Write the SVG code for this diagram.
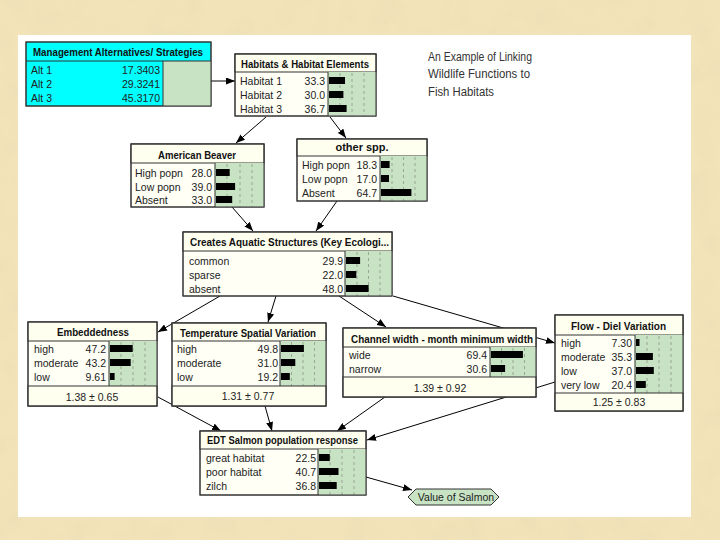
<svg xmlns="http://www.w3.org/2000/svg" width="720" height="540" viewBox="0 0 720 540">
<defs>
<style>
.box{stroke:#333;stroke-width:1;fill:#fffff6}
.ttl{fill:#fffff0;stroke:#333;stroke-width:1}
.cy{fill:#00ffff;stroke:#333;stroke-width:1}
.grn{fill:#c8e2c4}
.dash{stroke:#8a9a88;stroke-width:0.8;stroke-dasharray:3,3}
.bar{fill:#000}
.t{font-family:"Liberation Sans",Arial,sans-serif;font-size:11px;font-weight:bold;fill:#111}
.r{font-family:"Liberation Sans",Arial,sans-serif;font-size:10.5px;fill:#222}
.v{font-family:"Liberation Sans",Arial,sans-serif;font-size:10.5px;fill:#222;text-anchor:end}
.s{font-family:"Liberation Sans",Arial,sans-serif;font-size:10.5px;fill:#222;text-anchor:middle}
.c{stroke:#000;stroke-width:1;fill:none;marker-end:url(#ah)}
.note{font-family:"Liberation Sans",Arial,sans-serif;font-size:12px;fill:#333}
</style>
<marker id="ah" markerWidth="9" markerHeight="7" refX="9" refY="3.5" orient="auto" markerUnits="userSpaceOnUse">
<path d="M0,0 L9,3.5 L0,7 z" fill="#000"/>
</marker>
<filter id="paper" x="0" y="0" width="100%" height="100%">
<feTurbulence type="fractalNoise" baseFrequency="0.035" numOctaves="3" seed="7" result="n"/>
<feColorMatrix in="n" type="matrix" values="0 0 0 0 0.80  0 0 0 0 0.70  0 0 0 0 0.45  0 0 0 1.1 -0.45"/>
</filter>
</defs>
<rect x="0" y="0" width="720" height="540" fill="#f2e3b9"/>
<rect x="0" y="0" width="720" height="540" filter="url(#paper)" opacity="0.6"/>
<rect x="18" y="35" width="673" height="482" fill="#ffffff"/>

<g id="title-note">
<text class="note" x="428" y="61" textLength="104" lengthAdjust="spacingAndGlyphs">An Example of Linking</text>
<text class="note" x="428" y="78" textLength="102" lengthAdjust="spacingAndGlyphs">Wildlife Functions to</text>
<text class="note" x="428" y="96" textLength="66" lengthAdjust="spacingAndGlyphs">Fish Habitats</text>
</g>

<g id="connectors">
<path class="c" d="M211,81 L235,81"/>
<path class="c" d="M266,117 L236,143"/>
<path class="c" d="M330,117 L346,138"/>
<path class="c" d="M232,207 L253,231"/>
<path class="c" d="M337,201 L316,231"/>
<path class="c" d="M220,296 L158,332"/>
<path class="c" d="M276,296 L268,322"/>
<path class="c" d="M339,296 L386,327"/>
<path class="c" d="M393,296 L555,343"/>
<path class="c" d="M158,397 L221,431"/>
<path class="c" d="M265,406 L272,431"/>
<path class="c" d="M385,397 L337,431"/>
<path class="c" d="M555,382 L367,440"/>
<path class="c" d="M366,477 L412,490"/>
</g>

<g id="management">
<rect class="cy" x="26" y="42" width="185" height="64"/>
<rect class="grn" x="163" y="61" width="48" height="45"/>
<line x1="163" y1="61" x2="163" y2="106" stroke="#333"/>
<line x1="26" y1="61" x2="211" y2="61" stroke="#333"/>
<rect x="26" y="42" width="185" height="64" fill="none" stroke="#333"/>
<text class="t" x="33" y="56" textLength="170" lengthAdjust="spacingAndGlyphs">Management Alternatives/ Strategies</text>
<text class="r" x="31" y="74">Alt 1</text><text class="v" x="160" y="74">17.3403</text>
<text class="r" x="31" y="88">Alt 2</text><text class="v" x="160" y="88">29.3241</text>
<text class="r" x="31" y="102">Alt 3</text><text class="v" x="160" y="102">45.3170</text>
</g>

<g id="habitats">
<rect class="box" x="235" y="54" width="141" height="62"/>
<rect class="ttl" x="235" y="54" width="141" height="18"/>
<rect class="grn" x="328" y="72" width="48" height="44"/>
<line class="dash" x1="340" y1="73" x2="340" y2="116"/><line class="dash" x1="352" y1="73" x2="352" y2="116"/><line class="dash" x1="364" y1="73" x2="364" y2="116"/>
<line x1="328" y1="72" x2="328" y2="116" stroke="#333"/>
<rect x="235" y="54" width="141" height="62" fill="none" stroke="#333"/>
<text class="t" x="241" y="68" textLength="128" lengthAdjust="spacingAndGlyphs">Habitats &amp; Habitat Elements</text>
<text class="r" x="240" y="85">Habitat 1</text><text class="v" x="325" y="85">33.3</text><rect class="bar" x="329" y="77" width="16" height="7"/>
<text class="r" x="240" y="99">Habitat 2</text><text class="v" x="325" y="99">30.0</text><rect class="bar" x="329" y="91" width="14.4" height="7"/>
<text class="r" x="240" y="113">Habitat 3</text><text class="v" x="325" y="113">36.7</text><rect class="bar" x="329" y="105" width="17.6" height="7"/>
</g>

<g id="beaver">
<rect class="box" x="131" y="144" width="133" height="63"/>
<rect class="ttl" x="131" y="144" width="133" height="19"/>
<rect class="grn" x="215" y="163" width="49" height="44"/>
<line class="dash" x1="227" y1="164" x2="227" y2="207"/><line class="dash" x1="240" y1="164" x2="240" y2="207"/><line class="dash" x1="252" y1="164" x2="252" y2="207"/>
<line x1="215" y1="163" x2="215" y2="207" stroke="#333"/>
<rect x="131" y="144" width="133" height="63" fill="none" stroke="#333"/>
<text class="t" x="158" y="159" textLength="78" lengthAdjust="spacingAndGlyphs">American Beaver</text>
<text class="r" x="135" y="177">High popn</text><text class="v" x="212" y="177">28.0</text><rect class="bar" x="216" y="169" width="13.7" height="7"/>
<text class="r" x="135" y="191">Low popn</text><text class="v" x="212" y="191">39.0</text><rect class="bar" x="216" y="183" width="19.1" height="7"/>
<text class="r" x="135" y="204">Absent</text><text class="v" x="212" y="204">33.0</text><rect class="bar" x="216" y="196" width="16.2" height="7"/>
</g>

<g id="other-spp">
<rect class="box" x="297" y="139" width="130" height="62"/>
<rect class="ttl" x="297" y="139" width="130" height="17"/>
<rect class="grn" x="380" y="156" width="47" height="45"/>
<line class="dash" x1="392" y1="157" x2="392" y2="201"/><line class="dash" x1="403.5" y1="157" x2="403.5" y2="201"/><line class="dash" x1="415" y1="157" x2="415" y2="201"/>
<line x1="380" y1="156" x2="380" y2="201" stroke="#333"/>
<rect x="297" y="139" width="130" height="62" fill="none" stroke="#333"/>
<text class="t" x="362" y="151" text-anchor="middle">other spp.</text>
<text class="r" x="302" y="169">High popn</text><text class="v" x="377" y="169">18.3</text><rect class="bar" x="381" y="161" width="8.6" height="7"/>
<text class="r" x="302" y="183">Low popn</text><text class="v" x="377" y="183">17.0</text><rect class="bar" x="381" y="175" width="8" height="7"/>
<text class="r" x="302" y="197">Absent</text><text class="v" x="377" y="197">64.7</text><rect class="bar" x="381" y="189" width="30.4" height="7"/>
</g>

<g id="creates">
<rect class="box" x="183" y="232" width="209" height="64"/>
<rect class="ttl" x="183" y="232" width="209" height="19"/>
<rect class="grn" x="345" y="251" width="47" height="45"/>
<line class="dash" x1="357" y1="252" x2="357" y2="296"/><line class="dash" x1="368.5" y1="252" x2="368.5" y2="296"/><line class="dash" x1="380" y1="252" x2="380" y2="296"/>
<line x1="345" y1="251" x2="345" y2="296" stroke="#333"/>
<rect x="183" y="232" width="209" height="64" fill="none" stroke="#333"/>
<text class="t" x="190" y="246" textLength="199" lengthAdjust="spacingAndGlyphs">Creates Aquatic Structures (Key Ecologi...</text>
<text class="r" x="189" y="265">common</text><text class="v" x="343" y="265">29.9</text><rect class="bar" x="346" y="257" width="14.1" height="7"/>
<text class="r" x="189" y="279">sparse</text><text class="v" x="343" y="279">22.0</text><rect class="bar" x="346" y="271" width="10.3" height="7"/>
<text class="r" x="189" y="293">absent</text><text class="v" x="343" y="293">48.0</text><rect class="bar" x="346" y="285" width="22.6" height="7"/>
</g>

<g id="embeddedness">
<rect class="box" x="28" y="322" width="129" height="84"/>
<rect class="ttl" x="28" y="322" width="129" height="19"/>
<rect class="grn" x="109" y="341" width="48" height="45"/>
<line class="dash" x1="121" y1="342" x2="121" y2="386"/><line class="dash" x1="133" y1="342" x2="133" y2="386"/><line class="dash" x1="145" y1="342" x2="145" y2="386"/>
<line x1="109" y1="341" x2="109" y2="386" stroke="#333"/>
<rect class="ttl" x="28" y="386" width="129" height="20"/>
<rect x="28" y="322" width="129" height="84" fill="none" stroke="#333"/>
<text class="t" x="57" y="336" textLength="72" lengthAdjust="spacingAndGlyphs">Embeddedness</text>
<text class="r" x="34" y="353">high</text><text class="v" x="106" y="353">47.2</text><rect class="bar" x="110" y="345" width="22.7" height="7"/>
<text class="r" x="34" y="367">moderate</text><text class="v" x="106" y="367">43.2</text><rect class="bar" x="110" y="359" width="20.7" height="7"/>
<text class="r" x="34" y="381">low</text><text class="v" x="106" y="381">9.61</text><rect class="bar" x="110" y="373" width="4.6" height="7"/>
<text class="s" x="92" y="401">1.38 ± 0.65</text>
</g>

<g id="temperature">
<rect class="box" x="172" y="323" width="154" height="83"/>
<rect class="ttl" x="172" y="323" width="154" height="18"/>
<rect class="grn" x="280" y="341" width="46" height="45"/>
<line class="dash" x1="291.5" y1="342" x2="291.5" y2="386"/><line class="dash" x1="303" y1="342" x2="303" y2="386"/><line class="dash" x1="314.5" y1="342" x2="314.5" y2="386"/>
<line x1="280" y1="341" x2="280" y2="386" stroke="#333"/>
<rect class="ttl" x="172" y="386" width="154" height="20"/>
<rect x="172" y="323" width="154" height="83" fill="none" stroke="#333"/>
<text class="t" x="180" y="337" textLength="136" lengthAdjust="spacingAndGlyphs">Temperature Spatial Variation</text>
<text class="r" x="177" y="353">high</text><text class="v" x="278" y="353">49.8</text><rect class="bar" x="281" y="345" width="22.9" height="7"/>
<text class="r" x="177" y="367">moderate</text><text class="v" x="278" y="367">31.0</text><rect class="bar" x="281" y="359" width="14.3" height="7"/>
<text class="r" x="177" y="381">low</text><text class="v" x="278" y="381">19.2</text><rect class="bar" x="281" y="373" width="8.8" height="7"/>
<text class="s" x="248" y="400">1.31 ± 0.77</text>
</g>

<g id="channel-width">
<rect class="box" x="343" y="328" width="193" height="69"/>
<rect class="ttl" x="343" y="328" width="193" height="19"/>
<rect class="grn" x="490" y="347" width="46" height="30"/>
<line class="dash" x1="501.5" y1="348" x2="501.5" y2="377"/><line class="dash" x1="513" y1="348" x2="513" y2="377"/><line class="dash" x1="524.5" y1="348" x2="524.5" y2="377"/>
<line x1="490" y1="347" x2="490" y2="377" stroke="#333"/>
<rect class="ttl" x="343" y="377" width="193" height="20"/>
<rect x="343" y="328" width="193" height="69" fill="none" stroke="#333"/>
<text class="t" x="351" y="343" textLength="182" lengthAdjust="spacingAndGlyphs">Channel width - month minimum width</text>
<text class="r" x="349" y="359">wide</text><text class="v" x="487" y="359">69.4</text><rect class="bar" x="491" y="351" width="31.9" height="7"/>
<text class="r" x="349" y="373">narrow</text><text class="v" x="487" y="373">30.6</text><rect class="bar" x="491" y="365" width="14.1" height="7"/>
<text class="s" x="440" y="392">1.39 ± 0.92</text>
</g>

<g id="flow">
<rect class="box" x="555" y="315" width="128" height="96"/>
<rect class="ttl" x="555" y="315" width="128" height="20"/>
<rect class="grn" x="635" y="335" width="48" height="58"/>
<line class="dash" x1="647" y1="336" x2="647" y2="393"/><line class="dash" x1="659" y1="336" x2="659" y2="393"/><line class="dash" x1="671" y1="336" x2="671" y2="393"/>
<line x1="635" y1="335" x2="635" y2="393" stroke="#333"/>
<rect class="ttl" x="555" y="393" width="128" height="18"/>
<rect x="555" y="315" width="128" height="96" fill="none" stroke="#333"/>
<text class="t" x="571" y="330" textLength="95" lengthAdjust="spacingAndGlyphs">Flow - Diel Variation</text>
<text class="r" x="561" y="347">high</text><text class="v" x="632" y="347">7.30</text><rect class="bar" x="636" y="339" width="3.5" height="7"/>
<text class="r" x="561" y="361">moderate</text><text class="v" x="632" y="361">35.3</text><rect class="bar" x="636" y="353" width="16.9" height="7"/>
<text class="r" x="561" y="375">low</text><text class="v" x="632" y="375">37.0</text><rect class="bar" x="636" y="367" width="17.8" height="7"/>
<text class="r" x="561" y="389">very low</text><text class="v" x="632" y="389">20.4</text><rect class="bar" x="636" y="381" width="9.8" height="7"/>
<text class="s" x="619" y="406">1.25 ± 0.83</text>
</g>

<g id="edt-salmon">
<rect class="box" x="200" y="431" width="166" height="64"/>
<rect class="ttl" x="200" y="431" width="166" height="18"/>
<rect class="grn" x="318" y="449" width="48" height="46"/>
<line class="dash" x1="330" y1="450" x2="330" y2="495"/><line class="dash" x1="342" y1="450" x2="342" y2="495"/><line class="dash" x1="354" y1="450" x2="354" y2="495"/>
<line x1="318" y1="449" x2="318" y2="495" stroke="#333"/>
<rect x="200" y="431" width="166" height="64" fill="none" stroke="#333"/>
<text class="t" x="207" y="444" textLength="151" lengthAdjust="spacingAndGlyphs">EDT Salmon population response</text>
<text class="r" x="206" y="462">great habitat</text><text class="v" x="316" y="462">22.5</text><rect class="bar" x="319" y="454" width="10.8" height="7"/>
<text class="r" x="206" y="476">poor habitat</text><text class="v" x="316" y="476">40.7</text><rect class="bar" x="319" y="468" width="19.5" height="7"/>
<text class="r" x="206" y="490">zilch</text><text class="v" x="316" y="490">36.8</text><rect class="bar" x="319" y="482" width="17.7" height="7"/>
</g>

<g id="value-of-salmon">
<polygon points="408,497 416,489 491,489 499,497 491,505 416,505" fill="#c8e2c4" stroke="#333" stroke-width="1"/>
<text class="s" x="456" y="501">Value of Salmon</text>
</g>
</svg>
